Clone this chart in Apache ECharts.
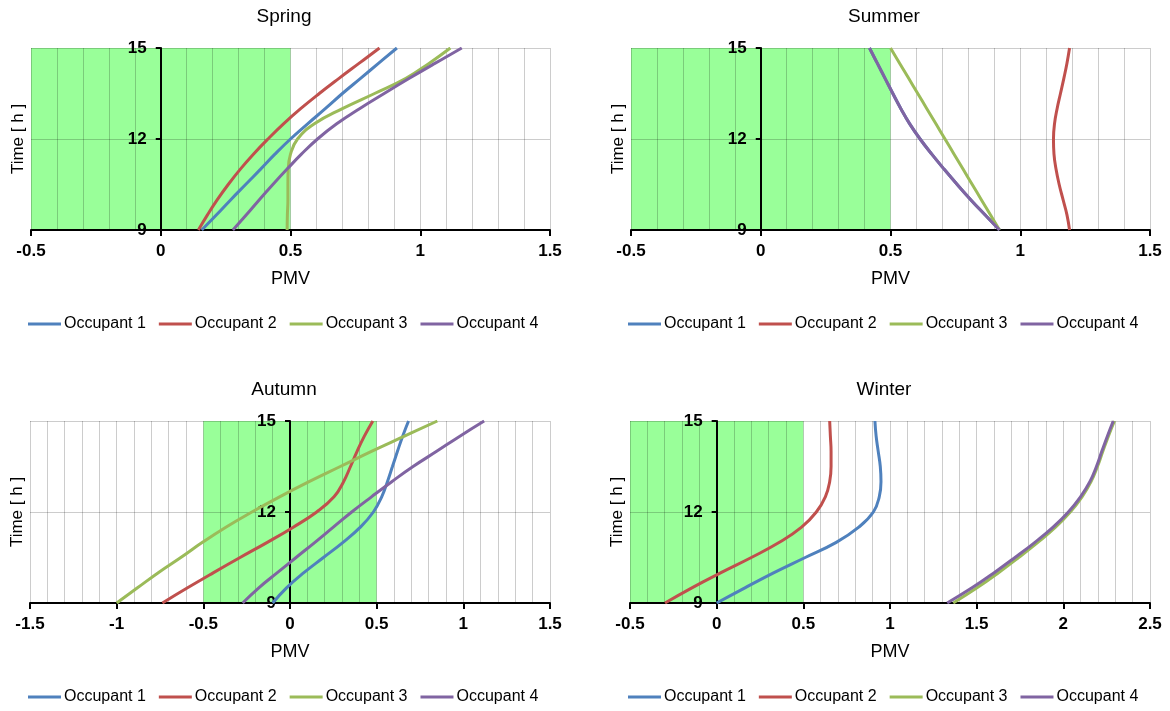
<!DOCTYPE html>
<html>
<head>
<meta charset="utf-8">
<script src="https://cdn.jsdelivr.net/npm/echarts@6/dist/echarts.min.js"></script>
<style>
html,body{margin:0;padding:0;background:#fff;}
#chart{width:1170px;height:711px;}
</style>
</head>
<body>
<div id="chart"></div>
<script>
// ---------- data ----------
const hours = [9, 9.5, 10, 10.5, 11, 11.5, 12, 12.5, 13, 13.5, 14, 14.5, 15];
const occupantNames = ['Occupant 1', 'Occupant 2', 'Occupant 3', 'Occupant 4'];
const seasonTitles = ['Spring', 'Summer', 'Autumn', 'Winter'];

const springOcc1 = [0.158, 0.215, 0.27, 0.327, 0.384, 0.44, 0.50, 0.566, 0.634, 0.70, 0.77, 0.84, 0.91];
const springOcc2 = [0.145, 0.18, 0.218, 0.26, 0.306, 0.357, 0.413, 0.473, 0.539, 0.611, 0.687, 0.765, 0.843];
const springOcc3 = [0.487, 0.488, 0.49, 0.49, 0.491, 0.50, 0.527, 0.592, 0.70, 0.824, 0.945, 1.035, 1.116];
const springOcc4 = [0.278, 0.33, 0.38, 0.432, 0.486, 0.542, 0.604, 0.678, 0.766, 0.861, 0.958, 1.058, 1.16];

const summerOcc1 = [0.92, 0.864, 0.809, 0.757, 0.707, 0.659, 0.614, 0.574, 0.54, 0.509, 0.479, 0.449, 0.419];
const summerOcc2 = [1.19, 1.18, 1.165, 1.15, 1.138, 1.13, 1.128, 1.132, 1.142, 1.155, 1.168, 1.18, 1.19];
const summerOcc3 = [0.92, 0.885, 0.85, 0.815, 0.78, 0.745, 0.71, 0.675, 0.64, 0.605, 0.57, 0.535, 0.50];
const summerOcc4 = [0.92, 0.864, 0.809, 0.757, 0.707, 0.659, 0.614, 0.574, 0.54, 0.509, 0.479, 0.449, 0.419];

const autumnOcc1 = [-0.10, -0.02, 0.08, 0.193, 0.306, 0.406, 0.481, 0.529, 0.562, 0.591, 0.62, 0.65, 0.684];
const autumnOcc2 = [-0.736, -0.591, -0.441, -0.288, -0.131, 0.019, 0.154, 0.254, 0.309, 0.349, 0.387, 0.429, 0.478];
const autumnOcc3 = [-1.0, -0.88, -0.76, -0.63, -0.505, -0.37, -0.22, -0.06, 0.11, 0.29, 0.47, 0.66, 0.85];
const autumnOcc4 = [-0.273, -0.18, -0.073, 0.035, 0.144, 0.25, 0.356, 0.47, 0.587, 0.71, 0.846, 0.98, 1.12];

const winterOcc1 = [0.0, 0.163, 0.331, 0.511, 0.69, 0.82, 0.904, 0.938, 0.948, 0.944, 0.932, 0.92, 0.913];
const winterOcc2 = [-0.298, -0.143, 0.025, 0.2, 0.362, 0.49, 0.575, 0.627, 0.652, 0.66, 0.66, 0.656, 0.652];
const winterOcc3 = [1.365, 1.502, 1.626, 1.742, 1.853, 1.955, 2.04, 2.108, 2.16, 2.197, 2.228, 2.26, 2.295];
const winterOcc4 = [1.33, 1.473, 1.601, 1.721, 1.836, 1.941, 2.029, 2.099, 2.153, 2.191, 2.222, 2.254, 2.288];

const pmvMin = [-0.5, -0.5, -1.5, -0.5];
const pmvMax = [1.5, 1.5, 1.5, 2.5];
const pmvTickStep = 0.5;
const timeMin = 9, timeMax = 15, timeTickStep = 3;
const comfortZone = [-0.5, 0.5];

// ---------- layout / style ----------
const panelData = [
  [springOcc1, springOcc2, springOcc3, springOcc4],
  [summerOcc1, summerOcc2, summerOcc3, summerOcc4],
  [autumnOcc1, autumnOcc2, autumnOcc3, autumnOcc4],
  [winterOcc1, winterOcc2, winterOcc3, winterOcc4]
];
const colors = ['#4F81BD', '#C0504D', '#9BBB59', '#8064A2'];
const grids = [
  {left: 31, top: 48, width: 519, height: 182, containLabel: false, outerBoundsMode: 'none'},
  {left: 631, top: 48, width: 519, height: 182, containLabel: false, outerBoundsMode: 'none'},
  {left: 30, top: 421, width: 520, height: 182, containLabel: false, outerBoundsMode: 'none'},
  {left: 630, top: 421, width: 520, height: 182, containLabel: false, outerBoundsMode: 'none'}
];
const titleCenters = [[284, 2], [884, 2], [284, 375], [884, 375]];
const legendPos = [[28, 316], [628, 316], [28, 689], [628, 689]];
const FONT = '"Liberation Sans", Arial, sans-serif';

const xAxes = [], yAxes = [], series = [], titles = [], legends = [];
grids.forEach((g, p) => {
  // pixel distance from the plot's left edge to PMV = 0, where the time axis sits
  const zeroShift = (0 - pmvMin[p]) / (pmvMax[p] - pmvMin[p]) * g.width;
  xAxes.push({
    gridIndex: p, type: 'value', min: pmvMin[p], max: pmvMax[p], interval: pmvTickStep,
    name: 'PMV', nameLocation: 'middle', nameGap: 40,
    nameTextStyle: {fontFamily: FONT, fontSize: 18, color: '#000'},
    axisLine: {show: true, onZero: false, lineStyle: {color: '#000', width: 2}},
    axisTick: {show: true, length: 6, lineStyle: {color: '#000', width: 2}},
    axisLabel: {fontFamily: FONT, fontSize: 17, fontWeight: 'bold', color: '#000', margin: 13},
    splitLine: {show: true, lineStyle: {color: 'rgba(0,0,0,0.2)', width: 1}},
    minorTick: {show: false, splitNumber: 5},
    minorSplitLine: {show: true, lineStyle: {color: 'rgba(0,0,0,0.2)', width: 1}}
  });
  yAxes.push({
    gridIndex: p, type: 'value', min: timeMin, max: timeMax, interval: timeTickStep,
    position: 'left', offset: -zeroShift,
    name: 'Time [ h ]', nameLocation: 'middle', nameGap: zeroShift + 4,
    nameTextStyle: {fontFamily: FONT, fontSize: 17, color: '#000'},
    axisLine: {show: true, onZero: false, lineStyle: {color: '#000', width: 2}},
    axisTick: {show: true, length: 5, lineStyle: {color: '#000', width: 2}},
    axisLabel: {fontFamily: FONT, fontSize: 17, fontWeight: 'bold', color: '#000', margin: 14},
    splitLine: {show: true, lineStyle: {color: 'rgba(0,0,0,0.2)', width: 1}}
  });
  titles.push({
    text: seasonTitles[p], left: titleCenters[p][0] - 5, top: titleCenters[p][1], textAlign: 'center',
    textStyle: {fontFamily: FONT, fontSize: 19, fontWeight: 'normal', color: '#000'}
  });
  legends.push({
    data: occupantNames, left: legendPos[p][0], top: legendPos[p][1], orient: 'horizontal',
    icon: 'rect', itemWidth: 33, itemHeight: 3, itemGap: 13, padding: 0,
    textStyle: {fontFamily: FONT, fontSize: 16, color: '#000', padding: [0, 0, 0, -2]}
  });
  // comfort zone band
  series.push({
    name: 'comfort', type: 'line', xAxisIndex: p, yAxisIndex: p, z: -1, silent: true,
    symbol: 'none', lineStyle: {width: 0},
    areaStyle: {color: '#99FF99', opacity: 1, origin: 'start'},
    data: [[comfortZone[0], timeMax], [comfortZone[1], timeMax]]
  });
  panelData[p].forEach((vals, k) => {
    series.push({
      name: occupantNames[k], type: 'line', xAxisIndex: p, yAxisIndex: p,
      smooth: 0.45, symbol: 'none', color: colors[k],
      lineStyle: {color: colors[k], width: 3},
      data: hours.map((h, i) => [vals[i], h])
    });
  });
});

const chart = echarts.init(document.getElementById('chart'), null, {renderer: 'canvas'});
chart.setOption({
  animation: false,
  backgroundColor: '#fff',
  title: titles,
  legend: legends,
  grid: grids,
  xAxis: xAxes,
  yAxis: yAxes,
  series: series
});
</script>
</body>
</html>
